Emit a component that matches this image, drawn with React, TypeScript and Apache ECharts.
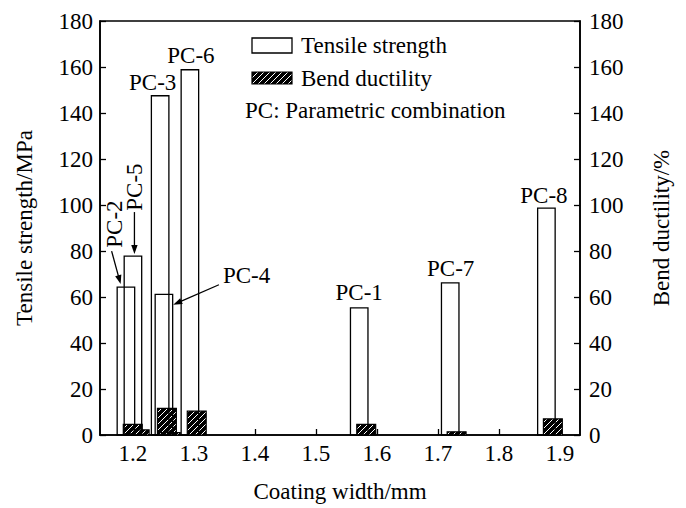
import React, { useEffect, useRef } from "react";
import * as echarts from "echarts";

// ---- data ----
const pcNames = ["PC-1", "PC-2", "PC-3", "PC-4", "PC-5", "PC-6", "PC-7", "PC-8"];
const tensileWidth = [1.571, 1.1885, 1.2446, 1.2508, 1.2, 1.2934, 1.7202, 1.8779];
const tensileStrength = [55.3, 64.3, 147.5, 61.1, 77.8, 158.8, 66.1, 98.6];
const bendWidth = [1.5825, 1.1997, 1.2557, 1.262, 1.211, 1.3046, 1.7307, 1.8885];
const bendDuctility = [4.6, 4.6, 11.6, 1.0, 2.2, 10.4, 1.4, 7.0];
const xTickValues = [1.2, 1.3, 1.4, 1.5, 1.6, 1.7, 1.8, 1.9];

const FONT = "'Liberation Serif', 'Times New Roman', serif";

// annotation placement (pixel offsets from the top of each tensile bar)
const annotations: Record<string, any> = {
  "PC-1": { dx: 0, dy: -15 },
  "PC-2": { dx: -11, dy: -63, rotate: true, arrow: [-14.3, -36, -5.3, -3] },
  "PC-3": { dx: -7.5, dy: -13.5 },
  "PC-4": { dx: 59, dy: -18.7, left: true, arrow: [55, -9.7, 9.3, 10.3] },
  "PC-5": { dx: 1.2, dy: -69, rotate: true, arrow: [1.5, -44, 1.5, -2] },
  "PC-6": { dx: 1, dy: -14 },
  "PC-7": { dx: 0.5, dy: -14 },
  "PC-8": { dx: -2.5, dy: -13 },
};

function makeHatch(): HTMLCanvasElement {
  const c = document.createElement("canvas");
  c.width = 6;
  c.height = 6;
  const ctx = c.getContext("2d")!;
  ctx.fillStyle = "#000";
  ctx.fillRect(0, 0, 6, 6);
  ctx.strokeStyle = "#fff";
  ctx.lineWidth = 1.0;
  ctx.beginPath();
  ctx.moveTo(0, 6);
  ctx.lineTo(6, 0);
  ctx.moveTo(-1, 1);
  ctx.lineTo(1, -1);
  ctx.moveTo(5, 7);
  ctx.lineTo(7, 5);
  ctx.stroke();
  return c;
}

export default function App() {
  const ref = useRef<HTMLDivElement>(null);
  useEffect(() => {
    if (!ref.current) return;
    const chart = echarts.init(ref.current, null, { renderer: "svg" });
    const hatch = { image: makeHatch(), repeat: "repeat" };
    const TW = 0.0287;
    const BW = 0.031;

    const tensileData = tensileWidth.map((x, i) => [x, tensileStrength[i]]);
    const bendData = bendWidth.map((x, i) => [x, bendDuctility[i]]);

    const axisLabelStyle = { color: "#000", fontSize: 23, fontFamily: FONT };
    const nameStyle = { color: "#000", fontSize: 23, fontFamily: FONT };

    const option: any = {
      animation: false,
      backgroundColor: "#fff",
      grid: {
        left: 100,
        right: 106,
        top: 21,
        bottom: 71,
        show: true,
        borderColor: "#000",
        borderWidth: 1.6,
      },
      xAxis: {
        type: "value",
        min: 1.146,
        max: 1.933,
        axisLine: { show: true, lineStyle: { color: "#000", width: 1.6 } },
        axisTick: { show: true, inside: true, length: 6, customValues: xTickValues, lineStyle: { color: "#000", width: 1.3 } },
        axisLabel: { ...axisLabelStyle, margin: 7, customValues: xTickValues, formatter: (v: number) => v.toFixed(1) },
        splitLine: { show: false },
        name: "Coating width/mm",
        nameLocation: "middle",
        nameGap: 45,
        nameTextStyle: nameStyle,
      },
      yAxis: [
        {
          type: "value",
          min: 0,
          max: 180,
          interval: 20,
          position: "left",
          axisLine: { show: true, lineStyle: { color: "#000", width: 1.6 } },
          axisTick: { show: true, inside: true, length: 6, lineStyle: { color: "#000", width: 1.3 } },
          axisLabel: { ...axisLabelStyle, margin: 7 },
          splitLine: { show: false },
          name: "Tensile strength/MPa",
          nameLocation: "middle",
          nameGap: 64,
          nameRotate: 90,
          nameTextStyle: nameStyle,
        },
        {
          type: "value",
          min: 0,
          max: 180,
          interval: 20,
          position: "right",
          axisLine: { show: true, lineStyle: { color: "#000", width: 1.6 } },
          axisTick: { show: true, inside: true, length: 6, lineStyle: { color: "#000", width: 1.3 } },
          axisLabel: { ...axisLabelStyle, margin: 9 },
          splitLine: { show: false },
          name: "Bend ductility/%",
          nameLocation: "middle",
          nameGap: 70,
          nameRotate: 90,
          nameTextStyle: nameStyle,
        },
      ],
      series: [
        {
          type: "custom",
          name: "Bend ductility",
          yAxisIndex: 1,
          data: bendData,
          z: 2,
          renderItem: (params: any, api: any) => {
            const x = api.value(0);
            const y = api.value(1);
            const p0 = api.coord([x - BW / 2, y]);
            const p1 = api.coord([x + BW / 2, 0]);
            return {
              type: "rect",
              shape: { x: p0[0], y: p0[1], width: p1[0] - p0[0], height: p1[1] - p0[1] },
              style: { fill: hatch, stroke: "#000", lineWidth: 1.2 },
            };
          },
        },
        {
          type: "custom",
          name: "Tensile strength",
          yAxisIndex: 0,
          data: tensileData,
          z: 3,
          renderItem: (params: any, api: any) => {
            const x = api.value(0);
            const y = api.value(1);
            const p0 = api.coord([x - TW / 2, y]);
            const p1 = api.coord([x + TW / 2, 0]);
            return {
              type: "rect",
              shape: { x: p0[0], y: p0[1], width: p1[0] - p0[0], height: p1[1] - p0[1] },
              style: { fill: "none", stroke: "#000", lineWidth: 1.3 },
            };
          },
        },
      ],
    };
    chart.setOption(option);

    // annotations positioned from the bar tops via the chart's own scales
    const graphics: any[] = [];
    const textStyle = { fill: "#000", fontSize: 23, fontFamily: FONT };
    pcNames.forEach((name, i) => {
      const a = annotations[name];
      const p = chart.convertToPixel({ xAxisIndex: 0, yAxisIndex: 0 }, [tensileWidth[i], tensileStrength[i]]) as number[];
      graphics.push({
        type: "text",
        x: p[0] + a.dx,
        y: p[1] + a.dy,
        rotation: a.rotate ? Math.PI / 2 : 0,
        z: 10,
        style: {
          ...textStyle,
          text: name,
          align: a.left ? "left" : "center",
          verticalAlign: "middle",
        },
      });
      if (a.arrow) {
        const [sx, sy, ex, ey] = a.arrow;
        const x1 = p[0] + sx, y1 = p[1] + sy, x2 = p[0] + ex, y2 = p[1] + ey;
        const len = Math.hypot(x2 - x1, y2 - y1);
        const dx = (x2 - x1) / len, dy = (y2 - y1) / len;
        const L = 9, W = 3.2;
        const bx = x2 - dx * L, by = y2 - dy * L;
        graphics.push({
          type: "line",
          z: 10,
          shape: { x1, y1, x2: bx + dx * 2, y2: by + dy * 2 },
          style: { stroke: "#000", lineWidth: 1.3 },
        });
        graphics.push({
          type: "polygon",
          z: 10,
          shape: { points: [[x2, y2], [bx - dy * W, by + dx * W], [bx + dy * W, by - dx * W]] },
          style: { fill: "#000" },
        });
      }
    });

    // legend
    graphics.push(
      { type: "rect", z: 10, shape: { x: 252, y: 38, width: 40, height: 15 }, style: { fill: "#fff", stroke: "#000", lineWidth: 1.3 } },
      { type: "text", z: 10, x: 301, y: 45.5, style: { ...textStyle, text: "Tensile strength", align: "left", verticalAlign: "middle" } },
      { type: "rect", z: 10, shape: { x: 252, y: 72, width: 40, height: 12 }, style: { fill: hatch, stroke: "#000", lineWidth: 1.2 } },
      { type: "text", z: 10, x: 301, y: 78, style: { ...textStyle, text: "Bend ductility", align: "left", verticalAlign: "middle" } },
      { type: "text", z: 10, x: 245, y: 110.5, style: { ...textStyle, text: "PC: Parametric combination", align: "left", verticalAlign: "middle" } }
    );

    chart.setOption({ graphic: graphics });

    return () => chart.dispose();
  }, []);

  return (
    <div
      ref={ref}
      style={{ position: "fixed", left: 0, top: 0, width: 686, height: 508, background: "#fff" }}
    />
  );
}
